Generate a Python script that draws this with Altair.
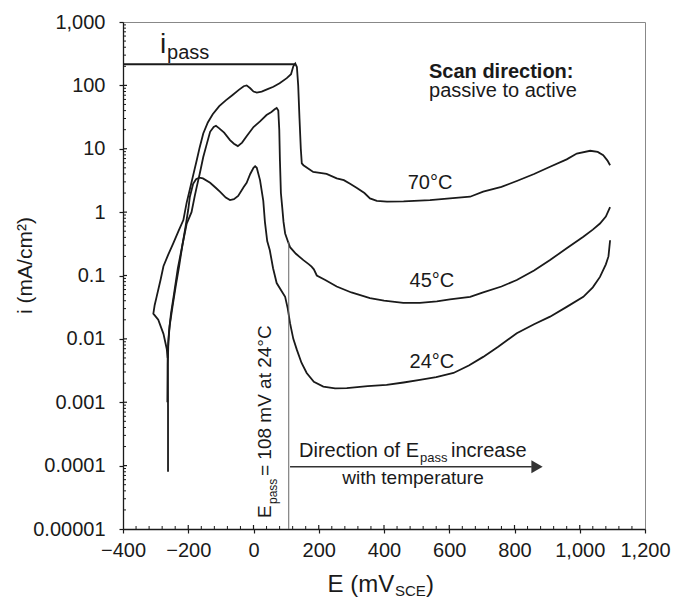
import altair as alt
import pandas as pd

# ---------------- data ----------------
E_24 = [-262, -262, -262.5, -261, -257, -248, -238, -228, -218, -208, -200, -195, -185, -176, -166,
        -155, -133, -115, -103, -85, -72, -60, -47, -30, -21, -10, 0, 5, 10, 20, 30, 35, 42, 50, 60,
        71, 85, 97, 105, 112, 122, 133, 147, 163, 185, 214, 250, 286, 350, 408, 460, 510, 560, 613,
        660, 704, 750, 807, 860, 909, 960, 1011, 1040, 1062, 1080, 1088, 1093]
I_24 = [0.00008, 0.0008, 0.004, 0.009, 0.016, 0.033, 0.07, 0.14, 0.3, 0.6, 1.1, 1.75, 2.8, 3.3, 3.5,
        3.4, 2.9, 2.4, 2.1, 1.7, 1.55, 1.6, 1.8, 2.5, 2.9, 4.0, 5.0, 5.3, 5.0, 3.2, 1.5, 0.7, 0.35, 0.25, 0.13,
        0.076, 0.058, 0.046, 0.03, 0.0177, 0.01, 0.0067, 0.0042, 0.0029, 0.0021, 0.00177, 0.00166, 0.00167,
        0.0018, 0.00188, 0.00205, 0.00225, 0.0025, 0.0029, 0.0038, 0.0052, 0.0075, 0.0123, 0.017, 0.0224,
        0.032, 0.046, 0.065, 0.095, 0.15, 0.2, 0.36]

E_45 = [-264, -263, -259, -253, -244, -232, -218, -205, -190, -180, -174, -165, -154, -145, -133, -122,
        -115, -105, -90, -72, -60, -48, -35, -20, 0, 20, 40, 55, 65, 71, 76, 79, 81, 84, 88, 92, 97, 105,
        112, 130, 153, 170, 178, 185, 194, 220, 255, 300, 357, 400, 459, 510, 562, 602, 664, 704, 760,
        807, 860, 909, 960, 1011, 1040, 1062, 1080, 1093]
I_45 = [0.001, 0.006, 0.013, 0.025, 0.05, 0.13, 0.3, 0.65, 1.0, 1.8, 2.5, 4.0, 7.4, 11, 18.5, 22,
        23, 21, 18, 13.7, 12, 11, 12.5, 16, 22, 27, 34, 38, 42, 44, 40, 20, 6.6, 2.0, 1.2, 0.7, 0.46, 0.35,
        0.28, 0.22, 0.175, 0.15, 0.138, 0.125, 0.1, 0.085, 0.067, 0.054, 0.044, 0.04, 0.037, 0.037, 0.039,
        0.042, 0.046, 0.054, 0.067, 0.085, 0.12, 0.175, 0.27, 0.41, 0.53, 0.66, 0.85, 1.2]

E_70 = [-263, -266, -276, -292, -307, -303, -297, -285, -276, -262, -246, -230, -215, -205, -195, -185,
        -174, -165, -154, -140, -125, -105, -85, -65, -45, -30, -21, -10, 0, 10, 25, 45, 61, 80, 102, 115,
        122, 128, 133, 137, 141, 145, 148, 153, 183, 224, 255, 277, 296, 317, 340, 357, 378, 409, 460,
        541, 602, 664, 704, 760, 807, 860, 909, 960, 991, 1032, 1055, 1072, 1085, 1093]
I_70 = [0.005, 0.007, 0.012, 0.02, 0.025, 0.034, 0.046, 0.085, 0.14, 0.21, 0.32, 0.5, 0.75, 1.4, 2.3, 3.8,
        6.6, 10.5, 17.4, 26, 35, 47, 58, 70, 85, 97, 100, 90, 80, 77, 80, 88, 95, 108, 130, 150,
        200, 221, 195, 100, 30, 10, 5.9, 5.5, 4.3, 4.0, 3.4, 3.2, 2.8, 2.4, 2.0, 1.65, 1.51, 1.46, 1.48,
        1.55, 1.65, 1.75, 2.1, 2.5, 3.1, 4.0, 5.2, 6.8, 8.4, 9.3, 8.9, 7.9, 6.5, 5.5]

ipass_E = [-400, 128]
ipass_I = [215, 215]
epass_E = [108]
epass_I_low = [0.00001]
epass_I_high = [0.34]
arrow_E = [112, 853]
arrow_I = [0.0000961, 0.0000961]
arrowhead_E = [869]
arrowhead_I = [0.0000961]

x_tick_values = [-400, -200, 0, 200, 400, 600, 800, 1000, 1200]
x_minor_values = [v for v in range(-400, 1201, 40) if v % 200 != 0]
y_tick_values = [0.00001, 0.0001, 0.001, 0.01, 0.1, 1, 10, 100, 1000]
y_tick_labels = ["0.00001", "0.0001", "0.001", "0.01", "0.1", "1", "10", "100", "1,000"]
y_minor_values = [m * 10.0 ** k for k in range(-5, 3) for m in range(2, 10)]

FONT = "Liberation Sans"
INK = "#1a1a1a"
W, H = 522, 507

# ---------------- scales ----------------
xs = alt.Scale(domain=[-400, 1200], nice=False, zero=False)
ys = alt.Scale(type="log", domain=[0.00001, 1000], nice=False)

rows = []
for name, es, vs in (("24", E_24, I_24), ("45", E_45, I_45), ("70", E_70, I_70)):
    for k, (e, v) in enumerate(zip(es, vs)):
        rows.append({"T": name, "E": e, "i": v, "idx": k})
curves_df = pd.DataFrame(rows)

label_expr = "[" + ",".join("'%s'" % s for s in y_tick_labels) + "][round(log(datum.value)/LN10)+5]"

main_x_axis = alt.Axis(values=x_tick_values, labelExpr="format(datum.value, ',')", tickSize=4,
                       tickColor=INK, tickWidth=1.2,
                       domainColor=INK, domainWidth=1.3, labelFont=FONT, labelFontSize=20,
                       labelColor=INK, labelPadding=7, labelFlush=False, labelOverlap=False,
                       grid=False, title=None)
main_y_axis = alt.Axis(values=y_tick_values, labelExpr=label_expr, tickSize=4, tickColor=INK,
                       tickWidth=1.2, domainColor=INK, domainWidth=1.3, labelFont=FONT,
                       labelFontSize=20, labelColor=INK, labelPadding=14, labelOverlap=False,
                       labelFlush=False, grid=False,
                       title="i (mA/cm²)", titleFont=FONT, titleFontSize=21, titleFontWeight="normal",
                       titleColor=INK, titleAngle=270, titleAlign="center", titleBaseline="alphabetic",
                       titleX=-92, titleY=243)

curves = alt.Chart(curves_df).mark_line(color=INK, strokeWidth=1.8).encode(
    x=alt.X("E:Q", scale=xs, axis=main_x_axis),
    y=alt.Y("i:Q", scale=ys, axis=main_y_axis),
    detail="T:N",
    order="idx:Q",
)

ipass = alt.Chart(pd.DataFrame({"E": ipass_E, "i": ipass_I})).mark_line(color=INK, strokeWidth=2).encode(
    x=alt.X("E:Q", scale=xs, axis=None), y=alt.Y("i:Q", scale=ys, axis=None))

epass = alt.Chart(pd.DataFrame({"E": epass_E, "lo": epass_I_low, "hi": epass_I_high})).mark_rule(
    color="#666", strokeWidth=1).encode(
    x=alt.X("E:Q", scale=xs, axis=None), y=alt.Y("lo:Q", scale=ys, axis=None), y2="hi:Q")


# inward tick marks (axis ticks drawn inside the frame)
def xticks(vals, length, width):
    return alt.Chart(pd.DataFrame({"v": vals})).mark_rule(color=INK, strokeWidth=width).encode(
        x=alt.X("v:Q", scale=xs, axis=None), y=alt.value(H), y2=alt.value(H - length))


def yticks(vals, length, width):
    return alt.Chart(pd.DataFrame({"v": vals})).mark_rule(color=INK, strokeWidth=width).encode(
        y=alt.Y("v:Q", scale=ys, axis=None), x=alt.value(0), x2=alt.value(length))


tick_layers = [xticks(x_tick_values[1:-1], 4, 1.2), xticks(x_minor_values, 3, 1),
               yticks(y_tick_values[1:-1], 4, 1.2), yticks(y_minor_values, 3, 1)]

arrow = alt.Chart(pd.DataFrame({"E": arrow_E, "i": arrow_I})).mark_line(color="#333", strokeWidth=1.6).encode(
    x=alt.X("E:Q", scale=xs, axis=None), y=alt.Y("i:Q", scale=ys, axis=None))
head = alt.Chart(pd.DataFrame({"E": arrowhead_E, "i": arrowhead_I})).mark_point(
    shape="triangle-right", size=170, filled=True, color="#333", opacity=1).encode(
    x=alt.X("E:Q", scale=xs, axis=None), y=alt.Y("i:Q", scale=ys, axis=None))


def txt(s, e, v, size=20, align="left", weight="normal", angle=0):
    d = pd.DataFrame({"E": [e], "i": [v], "t": [s]})
    return alt.Chart(d).mark_text(font=FONT, fontSize=size, align=align, baseline="alphabetic",
                                  fontWeight=weight, angle=angle, color=INK).encode(
        x=alt.X("E:Q", scale=xs, axis=None), y=alt.Y("i:Q", scale=ys, axis=None), text="t:N")


texts = [
    txt("i", -286.6, 324, size=28),
    txt("pass", -265, 261, size=20),
    txt("Scan direction:", 538, 130.6, size=20, weight="bold"),
    txt("passive to active", 538, 65.6, size=20),
    txt("70°C", 541, 2.32, size=20, align="center"),
    txt("45°C", 547, 0.0659, size=20, align="center"),
    txt("24°C", 547, 0.00347, size=20, align="center"),
    txt("Direction of E", 139.5, 0.0001368, size=20),
    txt("pass", 510.3, 0.0001135, size=13),
    txt("increase", 605.4, 0.0001368, size=20),
    txt("with temperature", 488.9, 0.0000513, size=19, align="center"),
    txt("E", 53.6, 0.00001493, size=19, angle=270),
    txt("pass", 72.0, 0.00002477, size=12, angle=270),
    txt("= 108 mV at 24°C", 53.6, 0.0000685, size=19, angle=270),
    txt("E (mV", 226.8, 0.000001014, size=24),
    txt("SCE", 433.7, 0.000000877, size=15),
    txt(")", 528.7, 0.000001014, size=24),
]

chart = alt.layer(curves, ipass, epass, *tick_layers, arrow, head, *texts).resolve_axis(
    x="independent", y="independent"
).properties(
    width=W, height=H,
    autosize=alt.AutoSizeParams(type="none"),
    padding={"left": 123, "top": 22, "right": 29, "bottom": 69},
    background="white",
).configure_view(stroke="#888", strokeWidth=1)

chart.save("out.html", embed_options={"renderer": "svg", "actions": False})
